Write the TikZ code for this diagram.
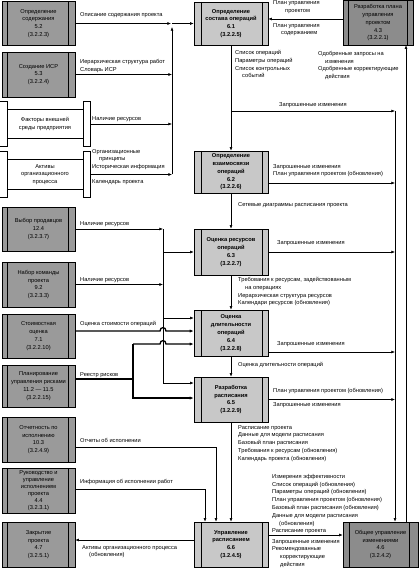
\documentclass[tikz,border=0pt]{standalone}
\usepackage{fontspec}
\setmainfont{Liberation Sans}
\usetikzlibrary{arrows.meta}
\definecolor{lfill}{HTML}{9A9A9A}
\definecolor{cfill}{HTML}{C8C8C8}
\definecolor{rfill}{HTML}{8C8C8C}
\begin{document}
\begin{tikzpicture}[x=1pt,y=-1pt,
 every node/.style={inner sep=0pt, font=\fontsize{5.7}{7.8}\selectfont},
 ln/.style={line width=0.5pt},
 arr/.style={line width=0.5pt, -{Latex[length=3.6pt,width=2.8pt]}},
 tarr/.style={line width=1.3pt, -{Latex[length=4pt,width=3.2pt]}},
 tln/.style={line width=1.3pt},
 lbl/.style={anchor=north west, align=left},
 inner lines/.style 2 args={path picture={
   \draw[line width=0.5pt] ([xshift=#1]path picture bounding box.north west) -- ([xshift=#1]path picture bounding box.south west);
   \draw[line width=0.5pt] ([xshift=-#2]path picture bounding box.north east) -- ([xshift=-#2]path picture bounding box.south east);}},
 lbox/.style={draw, line width=0.6pt, fill=lfill, minimum width=73pt, minimum height=44pt, align=center, inner lines={5.5pt}{7pt}},
 cbox/.style={draw, line width=0.6pt, fill=cfill, minimum width=74pt, align=center, font=\fontsize{5.7}{7.8}\selectfont\bfseries, inner lines={7pt}{6pt}},
 rbox/.style={draw, line width=0.6pt, fill=rfill, align=center},
 wbox/.style={minimum width=90pt, minimum height=44pt, align=center},
 bar/.style={draw, line width=0.6pt, fill=white},
]
\useasboundingbox (0,0) rectangle (419,569);

% left column
\node[lbox] (n52) at (38.5,23.5) {Определение\\содержания\\5.2\\(3.2.2.3)};
\node[lbox, minimum height=45pt] (n53) at (38.5,74.5) {Создание ИСР\\5.3\\(3.2.2.4)};
\node[wbox] (fac) at (45,124) {Факторы внешней\\среды предприятия};
\node[wbox, minimum height=45pt] (akt) at (45,174.5) {Активы\\организационного\\процесса};
\node[lbox] (n124) at (38.5,229) {Выбор продавцов\\12.4\\(3.2.3.7)};
\node[lbox, minimum height=45pt] (n92) at (38.5,284.5) {Набор команды\\проекта\\9.2\\(3.2.3.3)};
\node[lbox] (n71) at (38.5,336) {Стоимостная\\оценка\\7.1\\(3.2.2.10)};
\node[lbox, minimum height=42pt] (n112) at (38.5,386) {Планирование\\управления рисками\\11.2 — 11.5\\(3.2.2.15)};
\node[lbox, minimum height=45pt] (n103) at (38.5,439.5) {Отчетность по\\исполнению\\10.3\\(3.2.4.9)};
\node[lbox, minimum height=45pt, font=\fontsize{5.7}{7}\selectfont] (n44) at (38.5,490.5) {Руководство и\\управление\\исполнением\\проекта\\4.4\\(3.2.3.1)};
\node[lbox, minimum height=45pt] (n47) at (38.5,544.5) {Закрытие\\проекта\\4.7\\(3.2.5.1)};

% bars of the white boxes
\foreach \b in {fac,akt}{
  \draw[bar] (\b.north west) rectangle ([xshift=7pt]\b.south west);
  \draw[bar] (\b.north east) rectangle ([xshift=-7pt]\b.south east);
  \draw[ln] ([xshift=7pt,yshift=-7pt]\b.north west) -- ([xshift=-7pt,yshift=-7pt]\b.north east);
  \draw[ln] ([xshift=7pt,yshift=8pt]\b.south west) -- ([xshift=-7pt,yshift=8pt]\b.south east);
}

% central column
\node[cbox, minimum height=43pt] (n61) at (231,23.5) {Определение\\состава операций\\6.1\\(3.2.2.5)};
\node[cbox, minimum height=42pt] (n62) at (231,172) {Определение\\взаимосвязи\\операций\\6.2\\(3.2.2.6)};
\node[cbox, minimum height=46pt] (n63) at (231,252) {Оценка ресурсов\\операций\\6.3\\(3.2.2.7)};
\node[cbox, minimum height=46pt] (n64) at (231,333) {Оценка\\длительности\\операций\\6.4\\(3.2.2.8)};
\node[cbox, minimum height=45pt] (n65) at (231,399.5) {Разработка\\расписания\\6.5\\(3.2.2.9)};
\node[cbox, minimum height=45pt] (n66) at (231,544.5) {Управление\\расписанием\\6.6\\(3.2.4.5)};

% right column
\node[rbox, minimum width=70pt, minimum height=44.5pt, inner lines={5pt}{6pt}] (n43) at (378,22.75) {Разработка плана\\управления\\проектом\\4.3\\(3.2.2.1)};
\node[rbox, minimum width=75pt, minimum height=45pt, inner lines={6pt}{9pt}] (n46) at (380.5,544.5) {Общее управление\\изменениями\\4.6\\(3.2.4.2)};

% helper coordinates
\coordinate (j61) at (172,23.5);
\coordinate (b61) at (172,174.5);
\coordinate (b63) at (163,229);
\coordinate (e63) at (163,383);
\coordinate (r1) at (133,344);
\coordinate (r2) at (133,398);
\coordinate (rc) at (395,111);
\coordinate (uc) at (406,300);
\coordinate (c205) at (205,489);
\coordinate (c216) at (216,447);
\coordinate (y19) at (0,19);
\coordinate (y111) at (0,111);
\coordinate (y183) at (0,183);
\coordinate (y318) at (0,318);
\coordinate (y331) at (0,331);
\coordinate (y352) at (0,352);
\coordinate (y379) at (0,379);
\coordinate (y535) at (0,535);
\coordinate (y540) at (0,540);

% inputs to 6.1
\draw[arr] (n52.east) -- ([xshift=-1pt]j61);
\draw[arr] (n53.east) -- (n53.east -| j61);
\draw[arr] (fac.east) -- (fac.east -| j61);
\draw[arr] (akt.east) -- (b61);
\draw[arr] (b61) -- ([yshift=-3.5pt]j61);
\draw[arr] (j61) -- (n61.west);
\draw[arr] (n43.west |- y19) -- (n61.east |- y19);

% main chain
\draw[arr] (n61) -- (n62);
\draw[arr] (n62) -- (n63);
\draw[arr] (n63) -- (n64);
\draw[arr] (n64) -- (n65);
\draw[arr] (n65) -- (n66);

% requested changes
\draw[arr] (n61.south |- y111) -- (rc);
\draw[arr] (n62.east |- y183) -- (rc |- y183);
\draw[arr] (n63.east) -- (n63.east -| rc);
\draw[arr] (n64.east |- y352) -- (rc |- y352);
\draw[arr] (n65.east) -- (n65.east -| rc);
\draw[arr] (rc) -- (rc |- n46.north);
\draw[arr] (uc |- n46.north) -- (uc |- n43.south);

% resources bus
\draw[arr] (n124.east) -- (b63);
\draw[arr] (n92.east) -- (n92.east -| b63);
\draw[arr] (b63) -- (e63) -- (n65.west |- e63);
\draw[arr] (b63 |- n63.west) -- (n63.west);
\draw[arr] (b63 |- y318) -- (n64.west |- y318);

% cost estimate (thick, bridged)
\draw[tarr] (n71.east |- y331) -- (160,331) .. controls (160,326.5) and (166,326.5) .. (166,331) -- (n64.west |- y331);
% risk register
\draw[tln] (n112.east |- y379) -- (r1 |- y379);
\draw[tarr] (r1) -- (160,344) .. controls (160,339.5) and (166,339.5) .. (166,344) -- (n64.west |- r1);
\draw[tarr] (r1) -- (r2) -- (n65.west |- r2);

% inputs to 6.6
\draw[arr] (n103.east |- c216) -- (c216) -- (c216 |- n66.north);
\draw[arr] (n44.east |- c205) -- (c205) -- (c205 |- n66.north);
\draw[arr] (n66.west |- y540) -- (n47.east |- y540);
\draw[arr] (n66.east |- y535) -- (n46.west |- y535);

% labels
\node[lbl] (t1) at (80,12) {Описание содержания проекта};
\node[lbl] (t2) at (80,59) {Иерархическая структура работ\\Словарь ИСР};
\node[lbl] (t3) at (92,116) {Наличие ресурсов};
\node[lbl] (t4) at (92,149) {Организационные\\\hspace*{7pt}принципы\\Историческая информация};
\node[lbl] (t5) at (92,179) {Календарь проекта};
\node[lbl] (t6) at (273,0.5) {План управления\\\hspace*{12pt}проектом};
\node[lbl] (t7) at (273,23) {План управления\\\hspace*{8pt}содержанием};
\node[lbl] (t8) at (235,50) {Список операций\\Параметры операций\\Список контрольных\\\hspace*{7pt}событий};
\node[lbl] (t9) at (318,51) {Одобренные запросы на\\\hspace*{7pt}изменения\\Одобренные корректирующие\\\hspace*{7pt}действия};
\node[lbl] (t10) at (279,102) {Запрошенные изменения};
\node[lbl] (t11) at (273,164) {Запрошенные изменения\\План управления проектом (обновления)};
\node[lbl] (t12) at (238,202) {Сетевые диаграммы расписания проекта};
\node[lbl] (t13) at (277,240) {Запрошенные изменения};
\node[lbl] (t14) at (238,277) {Требования к ресурсам, задействованным\\\hspace*{7pt}на операциях\\Иерархическая структура ресурсов\\Календари ресурсов (обновления)};
\node[lbl] (t15) at (80,221) {Наличие ресурсов};
\node[lbl] (t16) at (80,277) {Наличие ресурсов};
\node[lbl] (t17) at (80,321) {Оценка стоимости операций};
\node[lbl] (t18) at (80,372) {Реестр рисков};
\node[lbl] (t19) at (277,341) {Запрошенные изменения};
\node[lbl] (t20) at (238,362) {Оценка длительности операций};
\node[lbl] (t21) at (273,388) {План управления проектом (обновления)};
\node[lbl] (t22) at (273,402) {Запрошенные изменения};
\node[lbl] (t23) at (238,425) {Расписание проекта\\Данные для модели расписания\\Базовый план расписания\\Требования к ресурсам (обновления)\\Календарь проекта (обновления)};
\node[lbl] (t24) at (80,438) {Отчеты об исполнении};
\node[lbl] (t25) at (80,479) {Информация об исполнении работ};
\node[lbl] (t26) at (82,545) {Активы организационного процесса\\\hspace*{7pt}(обновления)};
\node[lbl] (t27) at (272,474) {Измерения эффективности\\Список операций (обновления)\\Параметры операций (обновления)\\План управления проектом (обновления)\\Базовый план расписания (обновления)\\Данные для модели расписания\\\hspace*{7pt}(обновления)\\Расписание проекта};
\node[lbl] (t28) at (272,539) {Запрошенные изменения\\Рекомендованные\\\hspace*{8pt}корректирующие\\\hspace*{8pt}действия};
\end{tikzpicture}
\end{document}
